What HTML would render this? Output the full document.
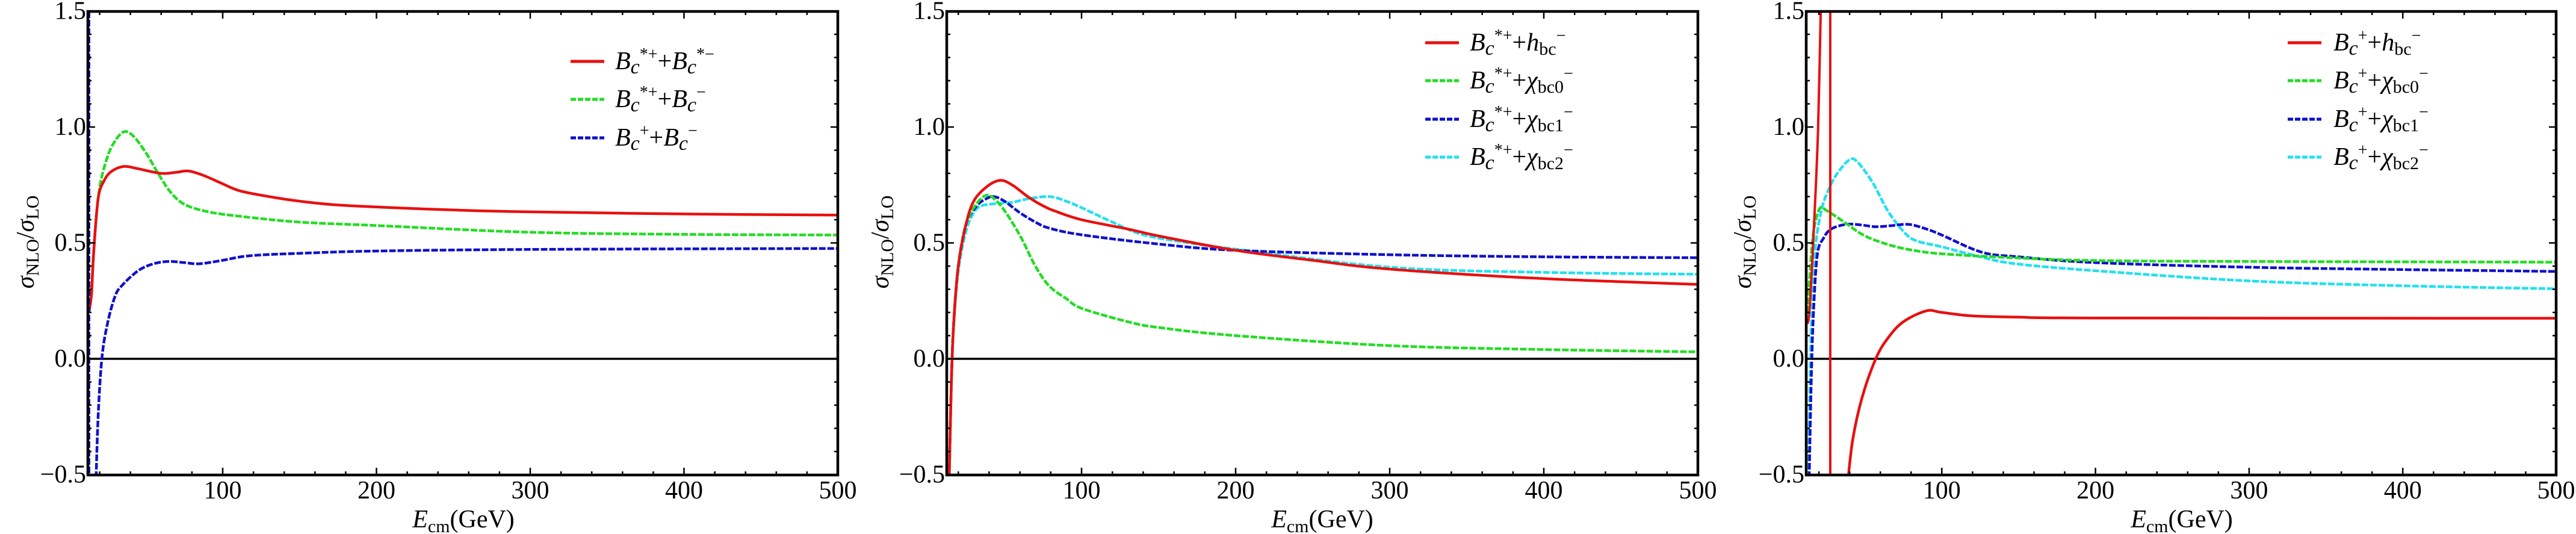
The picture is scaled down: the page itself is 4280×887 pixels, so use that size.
<!DOCTYPE html>
<html><head><meta charset="utf-8"><style>
html,body{margin:0;padding:0;background:#fff;}
svg{display:block;}
text{font-family:"Liberation Serif","Times New Roman",serif;fill:#000;}
</style></head><body>
<svg id="s" width="4280" height="887" viewBox="0 0 4280 887" xmlns="http://www.w3.org/2000/svg"></svg>
<script>
var NS="http://www.w3.org/2000/svg",S=document.getElementById('s');
function el(t,a,p){var e=document.createElementNS(NS,t);for(var k in a)e.setAttribute(k,a[k]);(p||S).appendChild(e);return e;}
var T=19,B=789;function Y(v){return 596-385*v;}
var P=[{L:146,R:1392,x0:114.5,k:2.555,yl:42,xl:770},{L:1573,R:2821,x0:1541,k:2.56,yl:1462,xl:2197},{L:3001,R:4247,x0:2971,k:2.553,yl:2895,xl:3625}];
function path(p,pts){var q=pts.map(function(d){return[p.x0+p.k*d[0],Y(d[1])];});
var s="M"+q[0][0].toFixed(1)+","+q[0][1].toFixed(1);
for(var i=0;i<q.length-1;i++){var a=q[i-1]||q[i],b=q[i],c=q[i+1],d=q[i+2]||c;
s+=" C"+(b[0]+(c[0]-a[0])/6).toFixed(1)+","+(b[1]+(c[1]-a[1])/6).toFixed(1)+" "+(c[0]-(d[0]-b[0])/6).toFixed(1)+","+(c[1]-(d[1]-b[1])/6).toFixed(1)+" "+c[0].toFixed(1)+","+c[1].toFixed(1);}
return s;}
var COL={r:"#e81010",g:"#22dd22",b:"#1010cc",c:"#22e0f0"};
var data=[
 {r:[[13,0.2],[14.7,0.28],[16,0.45],[19,0.69],[23,0.77],[28,0.81],[36,0.83],[45,0.82],[60,0.80],[70,0.805],[78,0.81],[88,0.79],[100,0.755],[111,0.725],[130,0.70],[150,0.68],[172,0.665],[200,0.655],[250,0.642],[300,0.634],[400,0.625],[500,0.62]],
  g:[[12.5,0.2],[14.7,0.3],[17,0.55],[20,0.74],[25,0.87],[30,0.94],[36,0.98],[42,0.96],[50,0.89],[58,0.80],[66,0.72],[75,0.667],[90,0.635],[111,0.615],[150,0.59],[200,0.575],[300,0.546],[400,0.537],[500,0.534]],
  b:[[17.5,-0.55],[19,-0.25],[21.4,0],[25,0.15],[30,0.27],[34.6,0.317],[45,0.38],[55,0.41],[65,0.42],[75,0.415],[85,0.41],[100,0.425],[118,0.445],[154,0.456],[200,0.465],[300,0.472],[500,0.476]]},
 {r:[[14,-0.55],[15.5,-0.1],[17,0.15],[20,0.4],[25,0.58],[30,0.68],[38,0.74],[47,0.77],[55,0.75],[65,0.70],[75,0.66],[83,0.637],[100,0.6],[130,0.56],[150,0.53],[200,0.468],[250,0.425],[300,0.387],[400,0.346],[500,0.321]],
  g:[[14,-0.55],[15.5,-0.1],[17,0.15],[20,0.4],[25,0.58],[32,0.67],[38.7,0.706],[45,0.68],[52,0.62],[61,0.52],[70,0.40],[79,0.314],[90,0.26],[100,0.218],[130,0.16],[150,0.135],[200,0.1],[300,0.057],[400,0.04],[500,0.03]],
  b:[[14,-0.55],[15.5,-0.1],[17,0.15],[20,0.4],[25,0.58],[32,0.66],[38,0.69],[43,0.70],[50,0.68],[60,0.63],[70,0.59],[79,0.564],[100,0.535],[150,0.495],[200,0.468],[300,0.449],[400,0.44],[500,0.436]],
  c:[[14,-0.55],[15.5,-0.1],[17,0.15],[20,0.38],[25,0.55],[30,0.63],[35,0.66],[45,0.67],[55,0.675],[65,0.69],[79,0.70],[90,0.68],[100,0.652],[120,0.59],[140,0.535],[170,0.50],[200,0.473],[300,0.395],[400,0.373],[500,0.365]]},
 {r:[[38.5,-0.55],[42,-0.35],[48,-0.17],[57,0],[65,0.09],[75,0.16],[90,0.207],[100,0.2],[120,0.185],[150,0.18],[200,0.176],[500,0.175]],
  g:[[12.5,0.2],[14,0.35],[16,0.52],[18,0.6],[21,0.652],[25,0.64],[32,0.61],[39,0.578],[50,0.53],[65,0.493],[80,0.47],[100,0.453],[150,0.435],[200,0.424],[300,0.42],[500,0.417]],
  b:[[13.6,-0.55],[15,-0.1],[16.5,0.2],[19,0.45],[23,0.52],[28,0.56],[37.6,0.58],[47,0.578],[57,0.57],[68,0.575],[78.5,0.58],[90,0.56],[100,0.534],[126,0.46],[150,0.44],[200,0.415],[300,0.395],[400,0.385],[500,0.377]],
  c:[[13,-0.55],[14.5,0],[16,0.3],[18,0.5],[22,0.65],[27,0.74],[32,0.8],[39.7,0.858],[45,0.85],[55,0.76],[65,0.637],[75,0.55],[83,0.51],[100,0.483],[125,0.44],[148,0.41],[200,0.38],[300,0.336],[400,0.315],[500,0.302]]}
];
var legs=[
 {lx:948,tx:1022,ys:[102,165,229],items:[["r","*+","*−",null],["g","*+","−",null],["b","+","−",null]]},
 {lx:2368,tx:2442,ys:[71,134,198,261],items:[["r","*+","h","bc"],["g","*+","χ","bc0"],["b","*+","χ","bc1"],["c","*+","χ","bc2"]]},
 {lx:3801,tx:3877,ys:[71,134,198,261],items:[["r","+","h","bc"],["g","+","χ","bc0"],["b","+","χ","bc1"],["c","+","χ","bc2"]]}
];
P.forEach(function(p,i){
 var cid="c"+i;var cp=el("clipPath",{id:cid});el("rect",{x:p.L,y:T,width:p.R-p.L,height:B-T},cp);
 el("line",{x1:p.L,y1:Y(0),x2:p.R,y2:Y(0),stroke:"#000","stroke-width":3.5});
 var g=el("g",{"clip-path":"url(#"+cid+")"});
 var d=data[i];
 ["c","b","g","r"].forEach(function(k){if(!d[k])return;
  var a={d:path(p,d[k]),fill:"none",stroke:COL[k],"stroke-width":4.5};
  if(k!="r")a["stroke-dasharray"]="11,3";el("path",a,g);});
 if(i==0)el("line",{x1:148,y1:T,x2:148,y2:B,stroke:COL.b,"stroke-width":4,"stroke-dasharray":"11,3"},g);
 if(i==2){el("path",{d:path(p,[[12.5,0.15],[14,0.22],[17,0.6],[19.5,1.0],[21.5,1.6]]),fill:"none",stroke:COL.r,"stroke-width":4},g);
  var vx=p.x0+p.k*27.4;el("line",{x1:vx,y1:T,x2:vx,y2:B,stroke:COL.r,"stroke-width":4},g);}
 el("rect",{x:p.L,y:T,width:p.R-p.L,height:B-T,fill:"none",stroke:"#000","stroke-width":4.5});
 for(var v=20;v<=500;v+=20){var x=p.x0+p.k*v;if(x<p.L+2)continue;var L=(v%100==0)?12:6;
  if(x<p.R-2){el("line",{x1:x,y1:B,x2:x,y2:B-L,stroke:"#000","stroke-width":2.5});el("line",{x1:x,y1:T,x2:x,y2:T+L,stroke:"#000","stroke-width":2.5});}
  if(v%100==0){var t=el("text",{x:(v==500?p.R:x),y:828,"font-size":42,"text-anchor":"middle"});t.textContent=v;}}
 for(var j=-5;j<=15;j++){var y=Y(j/10),L=(j%5==0)?12:6;
  el("line",{x1:p.L,y1:y,x2:p.L+L,y2:y,stroke:"#000","stroke-width":2.5});el("line",{x1:p.R,y1:y,x2:p.R-L,y2:y,stroke:"#000","stroke-width":2.5});
  if(j%5==0){var t=el("text",{x:p.L-3,y:y+13,"font-size":42,"text-anchor":"end"});t.textContent=(j<0?"−":"")+(Math.abs(j)/10).toFixed(1);}}
 var t=el("text",{x:p.xl,y:876,"font-size":42,"text-anchor":"middle"});
 t.innerHTML='<tspan font-style="italic">E</tspan><tspan font-size="30" dy="8">cm</tspan><tspan dy="-8">(GeV)</tspan>';
 var t2=el("text",{x:0,y:0,"font-size":42,"text-anchor":"middle",transform:"translate("+(p.yl+14)+",402) rotate(-90)"});
 t2.innerHTML='<tspan font-style="italic">σ</tspan><tspan font-size="30" dy="8">NLO</tspan><tspan dy="-8">/</tspan><tspan font-style="italic">σ</tspan><tspan font-size="30" dy="8">LO</tspan>';
 var lg=legs[i];
 lg.items.forEach(function(it,n){var y=lg.ys[n];var a={x1:lg.lx,y1:y,x2:lg.lx+56,y2:y,stroke:COL[it[0]],"stroke-width":5};
  if(it[0]!="r")a["stroke-dasharray"]="9,3";el("line",a);
  var t=el("text",{x:lg.tx,y:y+13,"font-size":42});
  var h='<tspan font-style="italic">B</tspan><tspan font-style="italic" font-size="34" dy="7">c</tspan><tspan font-size="28" dy="-23">'+it[1]+'</tspan><tspan dy="16">+</tspan>';
  if(it[3]===null){h+='<tspan font-style="italic">B</tspan><tspan font-style="italic" font-size="34" dy="7">c</tspan><tspan font-size="28" dy="-23">'+it[2]+'</tspan>';}
  else{h+='<tspan font-style="italic">'+it[2]+'</tspan><tspan font-size="30" dy="7">'+it[3]+'</tspan><tspan font-size="28" dy="-23">−</tspan>';}
  t.innerHTML=h;});
});
</script>
</body></html>
